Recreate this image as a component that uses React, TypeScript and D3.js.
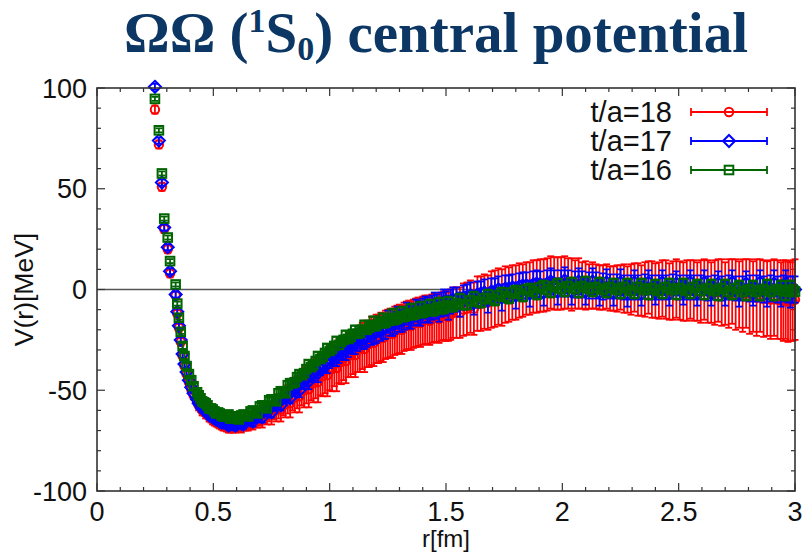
import React from "react";
import * as d3 from "d3";

// ---------- data ----------
// first group of lattice points
const R = [
  0.249, 0.266, 0.279, 0.289, 0.304, 0.314, 0.338, 0.345, 0.352, 0.360,
  0.368, 0.376, 0.385, 0.395, 0.405, 0.415, 0.430, 0.445, 0.460, 0.475,
  0.490, 0.505, 0.520, 0.535, 0.550, 0.565, 0.580, 0.595, 0.610, 0.630,
  0.650, 0.670, 0.690, 0.710, 0.730, 0.750, 0.770, 0.790, 0.810, 0.830,
  0.850, 0.870, 0.890, 0.910, 0.930, 0.950, 0.970, 0.990, 1.010, 1.030,
  1.050, 1.070, 1.090, 1.110, 1.130, 1.150, 1.170, 1.190, 1.210, 1.230,
  1.250, 1.270, 1.290, 1.310, 1.330, 1.350, 1.370, 1.390, 1.410, 1.430,
  1.450, 1.470, 1.490, 1.510, 1.530, 1.560, 1.590, 1.620, 1.650, 1.680,
  1.710, 1.740, 1.770, 1.800, 1.830, 1.860, 1.890, 1.920, 1.950, 1.980,
  2.010, 2.040, 2.070, 2.100, 2.130, 2.160, 2.190, 2.220, 2.250, 2.280,
  2.310, 2.340, 2.370, 2.400, 2.430, 2.460, 2.490, 2.520, 2.550, 2.580,
  2.610, 2.640, 2.670, 2.700, 2.730, 2.760, 2.790, 2.820, 2.850, 2.880,
  2.910, 2.940, 2.960, 2.980, 3.000,
];
// second group of lattice points (other directions)
const R2 = [
  0.437, 0.452, 0.467, 0.482, 0.497, 0.512, 0.527, 0.542, 0.557, 0.572,
  0.587, 0.602, 0.620, 0.640, 0.660, 0.680, 0.700, 0.720, 0.740, 0.760,
  0.780, 0.800, 0.820, 0.840, 0.860, 0.880, 0.900, 0.920, 0.940, 0.960,
  0.980, 1.000, 1.020, 1.040, 1.060, 1.080, 1.100, 1.120, 1.140, 1.160,
  1.180, 1.200, 1.220, 1.240, 1.260, 1.280, 1.300, 1.320, 1.340, 1.360,
  1.380, 1.400, 1.420, 1.440, 1.460, 1.480, 1.500, 1.520, 1.545, 1.575,
  1.605, 1.635, 1.665, 1.695, 1.725, 1.755, 1.785, 1.815, 1.845, 1.875,
  1.905, 1.935, 1.965, 1.995, 2.025, 2.055, 2.085, 2.115, 2.145, 2.175,
  2.205, 2.235, 2.265, 2.295, 2.325, 2.355, 2.385, 2.415, 2.445, 2.475,
  2.505, 2.535, 2.565, 2.595, 2.625, 2.655, 2.685, 2.715, 2.745, 2.775,
  2.805, 2.835, 2.865, 2.895, 2.925, 2.950, 2.970, 2.990,
];

// t/a = 18 (red)
const V18 = [
  89.3, 72, 51, 30, 20, 8, -3, -12, -19, -26,
  -33, -38, -42, -46, -49.5, -52.5, -55.5, -58.5, -60.5, -62,
  -63.5, -65, -66, -67, -67.5, -68.5, -68, -68.5, -68, -67.5,
  -67, -66.5, -65, -64.5, -62.5, -62, -60, -59.5, -57, -56.5,
  -53.5, -53, -50, -49.5, -46.5, -46, -43, -42.5, -39.5, -39,
  -36, -35.5, -32.5, -32.5, -29.5, -29.5, -27, -26.5, -24.5, -24,
  -22, -22, -20, -20, -18, -18, -16.5, -16.5, -15, -15.5,
  -14, -14.5, -13, -13.5, -11.5, -11.5, -9.5, -9.5, -7, -6.5,
  -4.5, -4, -2.5, -1.5, -0.5, 0.5, 1.5, 2, 3.5, 3,
  3.5, 2.5, 3, 2, 2, 1, 1.5, 0.5, 1, 0,
  1, -0.5, 1, -0.5, 0.5, -1, 0.5, -1, 0, -1,
  0, -1.5, -0.5, -2, -1, -2.5, -2, -3.5, -3, -4.5,
  -4, -5.5, -5, -6, -5,
];
const E18 = [
  2, 2, 2, 2, 2, 2, 2, 2, 2, 2,
  2, 2, 2, 2, 2, 2, 2, 2, 2, 2,
  2.5, 2.5, 2.5, 2.5, 2.5, 2.5, 2.5, 2.5, 2.5, 2.5,
  3, 3, 3.5, 4, 4.5, 5, 5.5, 6, 6.5, 7,
  7.5, 8, 8.5, 9, 9.5, 10, 10, 10.5, 11, 11.5,
  11, 11, 11, 11, 11.5, 11.5, 11.5, 11.5, 12, 12,
  12, 12, 12, 12, 12, 12, 12, 12, 12, 12,
  12, 12, 12, 12, 12.5, 12.5, 13, 13, 13.5, 13.5,
  14, 14, 13.5, 13.5, 13, 13, 13, 13, 13, 13,
  13, 13, 12.5, 12, 11.5, 11, 11, 11, 11, 11.5,
  12, 12.5, 13, 13.5, 14, 14, 14.5, 14.5, 14.5, 14.5,
  15, 15, 15.5, 15.5, 16, 16.5, 17, 17.5, 18, 18.5,
  19, 19, 19.5, 19.5, 20,
];
const V18b = [
  -57.5, -60, -61.5, -63, -64.5, -65.5, -66.5, -67.5, -68, -68.5,
  -68.5, -68, -68, -67, -66, -65, -63.5, -62, -60.5, -59,
  -58, -56, -54.5, -52.5, -51, -49, -47.5, -45.5, -44, -42,
  -40.5, -39, -37, -35.5, -34, -32.5, -31, -29.5, -28, -27,
  -25.5, -24.5, -23.5, -22.5, -21.5, -20.5, -19.5, -18.5, -17.5, -17,
  -16, -15.5, -15, -14.5, -14, -13.5, -13, -12.5, -11.5, -10,
  -8.5, -7, -6, -5, -3.5, -2.5, -1.5, -0.5, 0.5, 1.5,
  2, 2.5, 3, 3, 3, 2.5, 2, 1.5, 1.5, 1,
  0.5, 0.5, 0.5, 0, 0, 0, 0, -0.5, 0, -0.5,
  -0.5, -0.5, -0.5, -1, -1, -1.5, -1.5, -2, -2.5, -3,
  -3.5, -4, -4.5, -5, -5, -5.5, -6, -5.5,
];
const E18b = [
  2.5, 2.5, 2.5, 2.5, 2.5, 2.5, 2.5, 2.5, 2.5, 2.5,
  2.5, 2.5, 3, 3, 3, 3.5, 4, 4.5, 5, 5.5,
  6, 6.5, 7, 7.5, 8, 8.5, 9, 9.5, 10, 10.5,
  11, 11, 11, 11, 11, 11, 11, 11.5, 11.5, 11.5,
  12, 12, 12, 12, 12, 12, 12, 12, 12, 12,
  12, 12, 12, 12, 12, 12, 12.5, 12.5, 12.5, 13,
  13, 13.5, 13.5, 14, 14, 14, 13.5, 13.5, 13, 13,
  13, 13, 13, 13, 12.5, 12, 11.5, 11, 11, 11,
  11, 11.5, 12, 12.5, 13, 13.5, 14, 14, 14.5, 14.5,
  14.5, 15, 15, 15.5, 15.5, 16, 16.5, 17, 17.5, 18,
  18.5, 19, 19, 19.5, 19.5, 20, 20, 20,
];

// t/a = 17 (blue)
const V17 = [
  100.6, 73.9, 53.1, 30.8, 21, 9.1, -2.5, -11, -18, -25,
  -32, -37, -41, -45, -48.5, -51.5, -54.5, -57.5, -59.5, -61,
  -62.5, -64, -64.5, -66, -66, -67.5, -66.5, -67.5, -66, -67,
  -64.5, -65.5, -62.5, -63.5, -60, -61, -57, -57.5, -53.5, -54,
  -49.5, -50, -45, -45.5, -41, -41.5, -37, -37, -33, -33.5,
  -29.5, -30, -26.5, -27, -23.5, -24.5, -21, -22, -18.5, -19.5,
  -16, -17.5, -14, -15.5, -12, -14, -10.5, -12.5, -9, -11,
  -7.5, -10, -6, -9, -5, -7.5, -3.5, -6.5, -2, -5.5,
  -1, -4, 0.5, -3, 2, -2, 3, -1.5, 4, -1,
  4.5, -1, 4, -1, 4, -1.5, 3.5, -1.5, 3.5, -2,
  3.5, -2, 3.5, -1.5, 3.5, -2, 3, -1.5, 3.5, -2,
  3.5, -2, 3, -2, 3.5, -2.5, 3, -2, 3.5, -2.5,
  3, -2, 3, -2.5, 0,
];
const E17 = [
  1.5, 1.5, 1.5, 1.5, 1.5, 1.5, 1.5, 1.5, 1.5, 1.5,
  2, 2, 2, 2, 2, 2, 2, 2, 2, 2,
  2, 2, 2, 2, 2, 2, 2, 2, 2, 2,
  2.5, 2.5, 2.5, 2.5, 2.5, 2.5, 2.5, 2.5, 2.5, 2.5,
  3.5, 3.5, 4, 4, 4, 4.5, 4.5, 4.5, 4.5, 4.5,
  5, 5, 5, 5, 5, 5, 5, 5, 5, 5,
  5.5, 5.5, 5.5, 5.5, 5.5, 5.5, 5.5, 5.5, 5.5, 5.5,
  6, 6, 6, 6, 6, 6, 6, 6, 6, 6,
  6.5, 6.5, 6.5, 6.5, 6.5, 6.5, 6.5, 6.5, 6.5, 6.5,
  6.5, 6.5, 6.5, 6.5, 6.5, 6.5, 6.5, 6.5, 6.5, 6.5,
  6, 6, 6, 6, 6, 6, 6, 6, 6, 6,
  6, 6, 6, 6, 6, 6, 6, 6, 6, 6,
  6.5, 6.5, 6.5, 6.5, 6.5,
];
const V17b = [
  -56.5, -59, -60.5, -62.5, -63.5, -64.5, -65.5, -66, -66.5, -67,
  -67, -67, -66.5, -65.5, -64.5, -63.5, -62, -60.5, -59, -57.5,
  -56, -54, -52, -50, -48, -46, -44, -42, -40, -38,
  -36, -34.5, -33, -31.5, -30, -28.5, -27, -25.5, -24.5, -23.5,
  -22, -21, -20, -19, -17.5, -16.5, -15.5, -14.5, -13.5, -12.5,
  -11.5, -10.5, -10, -9, -8.5, -7.5, -7, -6, -5, -4,
  -3, -2.5, -1.5, -1, 0, 0.5, 1, 1.5, 2, 2.5,
  2.5, 3, 3, 3, 3, 2.5, 2.5, 2, 2, 1.5,
  1.5, 1.5, 1, 1, 1, 1.5, 1, 1, 1, 1.5,
  1, 1, 1, 1, 0.5, 1, 0.5, 1, 0.5, 0.5,
  0.5, 0.5, 0, 0.5, 0, 0.5, 0, 0,
];
const E17b = [
  2, 2, 2, 2, 2, 2, 2, 2, 2, 2,
  2, 2, 2, 2, 2, 2, 2, 2, 2, 2,
  2.5, 2.5, 3, 3, 3.5, 3.5, 4, 4, 4, 4.5,
  4.5, 4.5, 5, 5, 5, 5, 5, 5, 5, 5,
  5.5, 5.5, 5.5, 5.5, 5.5, 5.5, 5.5, 5.5, 5.5, 5.5,
  6, 6, 6, 6, 6, 6, 6, 6, 6, 6,
  6.5, 6.5, 6.5, 6.5, 6.5, 6.5, 6.5, 6.5, 6.5, 6.5,
  6.5, 6.5, 6.5, 6.5, 6.5, 6.5, 6.5, 6.5, 6.5, 6.5,
  6, 6, 6, 6, 6, 6, 6, 6, 6, 6,
  6, 6, 6, 6, 6, 6, 6, 6, 6, 6,
  6.5, 6.5, 6.5, 6.5, 6.5, 6.5, 6.5, 6.5,
];

// t/a = 16 (green)
const V16 = [
  94.6, 79, 57.6, 35.2, 25.8, 14.1, 2.5, -7, -14, -21,
  -28, -33, -38, -42, -45, -48, -51, -54, -56, -57.5,
  -59, -60.5, -61, -62.5, -63, -62, -64, -63, -64.5, -62,
  -63, -60, -61.5, -57.5, -59, -54.5, -55.5, -50.5, -51.5, -46.5,
  -46, -42, -41.5, -37, -37.5, -33, -33.5, -29, -29.5, -25.5,
  -26, -22.5, -23.5, -20, -21.5, -17.5, -19, -15.5, -17, -14,
  -15.5, -12, -14.5, -11, -13, -9.5, -12, -8.5, -11, -7.5,
  -10.5, -6.5, -9.5, -6, -8.5, -4.5, -7.5, -3.5, -6.5, -2.5,
  -5.5, -1.5, -4.5, -0.5, -3.5, 0.5, -2.5, 2, -1.5, 3,
  -1, 3.5, -1.5, 4, -1, 3.5, -1.5, 3, -2, 3,
  -2, 3, -2.5, 2.5, -2, 3, -2.5, 3, -2, 2.5,
  -2.5, 2.5, -3, 2.5, -2.5, 2, -3, 2, -3, 2.5,
  -3, 2, -3, 2, -1,
];
const E16 = [
  1, 1, 1, 1, 1, 1, 1, 1, 1, 1,
  1.5, 1.5, 1.5, 1.5, 1.5, 1.5, 1.5, 1.5, 1.5, 1.5,
  1.5, 1.5, 1.5, 1.5, 1.5, 1.5, 1.5, 1.5, 1.5, 1.5,
  1.5, 1.5, 1.5, 1.5, 1.5, 1.5, 1.5, 1.5, 1.5, 1.5,
  2, 2, 2, 2, 2, 2, 2, 2, 2, 2,
  2, 2, 2, 2, 2, 2, 2, 2, 2, 2,
  2.5, 2.5, 2.5, 2.5, 2.5, 2.5, 2.5, 2.5, 2.5, 2.5,
  2.5, 2.5, 2.5, 2.5, 2.5, 2.5, 2.5, 2.5, 2.5, 2.5,
  2.5, 2.5, 2.5, 2.5, 2.5, 2.5, 2.5, 2.5, 2.5, 2.5,
  2.5, 2.5, 2.5, 2.5, 2.5, 2.5, 2.5, 2.5, 2.5, 2.5,
  2.5, 2.5, 2.5, 2.5, 2.5, 2.5, 2.5, 2.5, 2.5, 2.5,
  2.5, 2.5, 2.5, 2.5, 2.5, 2.5, 2.5, 2.5, 2.5, 2.5,
  2.5, 2.5, 2.5, 2.5, 2.5,
];
const V16b = [
  -52.5, -55.5, -56.5, -59, -59.5, -61.5, -61.5, -63, -62.5, -64,
  -63, -64, -62.5, -62.5, -60.5, -60.5, -58, -57.5, -55, -54.5,
  -51.5, -50.5, -47.5, -46.5, -43.5, -42.5, -39.5, -38.5, -35.5, -34.5,
  -31.5, -30.5, -28, -27.5, -25, -24.5, -22, -22, -20, -20,
  -18, -18, -16, -16.5, -14.5, -15, -13.5, -13.5, -12, -12.5,
  -11, -11.5, -10, -10.5, -9, -9.5, -8, -8.5, -7, -7.5,
  -5.5, -6, -4.5, -4.5, -3, -3.5, -1.5, -2, 0, -1,
  1, 0, 1.5, 0.5, 1.5, 0.5, 1.5, 0.5, 1, 0,
  1, 0, 1, -0.5, 1, 0, 0.5, -0.5, 1, 0,
  0.5, -0.5, 1, -0.5, 0.5, -0.5, 0.5, -1, 0.5, -1,
  0, -1, 0, -1, 0, -0.5, -1, 0,
];
const E16b = [
  1.5, 1.5, 1.5, 1.5, 1.5, 1.5, 1.5, 1.5, 1.5, 1.5,
  1.5, 1.5, 1.5, 1.5, 1.5, 1.5, 1.5, 1.5, 1.5, 1.5,
  2, 2, 2, 2, 2, 2, 2, 2, 2, 2,
  2, 2, 2, 2, 2, 2, 2, 2, 2, 2,
  2.5, 2.5, 2.5, 2.5, 2.5, 2.5, 2.5, 2.5, 2.5, 2.5,
  2.5, 2.5, 2.5, 2.5, 2.5, 2.5, 2.5, 2.5, 2.5, 2.5,
  2.5, 2.5, 2.5, 2.5, 2.5, 2.5, 2.5, 2.5, 2.5, 2.5,
  2.5, 2.5, 2.5, 2.5, 2.5, 2.5, 2.5, 2.5, 2.5, 2.5,
  2.5, 2.5, 2.5, 2.5, 2.5, 2.5, 2.5, 2.5, 2.5, 2.5,
  2.5, 2.5, 2.5, 2.5, 2.5, 2.5, 2.5, 2.5, 2.5, 2.5,
  2.5, 2.5, 2.5, 2.5, 2.5, 2.5, 2.5, 2.5,
];

const SERIES_LABELS = ["t/a=18", "t/a=17", "t/a=16"];
const X_TICKS = [0, 0.5, 1, 1.5, 2, 2.5, 3];
const Y_TICKS = [-100, -50, 0, 50, 100];
const X_LABEL = "r[fm]";
const Y_LABEL = "V(r)[MeV]";

// ---------- layout ----------
const W = 807;
const H = 552;
const L = 97, Rt = 795, T = 88, B = 491;
const FONT = "'Liberation Sans', Arial, Helvetica, sans-serif";
const COLORS = ["#ff0000", "#0000ff", "#006400"];
const SHAPES = ["circle", "diamond", "square"];

function Marker({ shape, x, y, color }) {
  const sw = 2;
  if (shape === "circle")
    return <circle cx={x} cy={y} r={4.2} fill="none" stroke={color} strokeWidth={sw} />;
  if (shape === "diamond") {
    const s = 6;
    return (
      <path
        d={`M${x},${y - s}L${x + s},${y}L${x},${y + s}L${x - s},${y}Z`}
        fill="none"
        stroke={color}
        strokeWidth={sw}
      />
    );
  }
  const s = 4.3;
  return <rect x={x - s} y={y - s} width={2 * s} height={2 * s} fill="none" stroke={color} strokeWidth={sw} />;
}

export default function App() {
  const x = d3.scaleLinear().domain([0, 3]).range([L, Rt]);
  const y = d3.scaleLinear().domain([-100, 100]).range([B, T]);

  const series = [
    { label: SERIES_LABELS[0], sets: [{ r: R, v: V18, e: E18 }, { r: R2, v: V18b, e: E18b }] },
    { label: SERIES_LABELS[1], sets: [{ r: R, v: V17, e: E17 }, { r: R2, v: V17b, e: E17b }] },
    { label: SERIES_LABELS[2], sets: [{ r: R, v: V16, e: E16 }, { r: R2, v: V16b, e: E16b }] },
  ];

  const xMinor = d3.range(0, 30.001, 1).map((d) => d / 10);
  const yMinor = d3.range(-10, 10.001, 1).map((d) => d * 10);
  const axisColor = "#333";

  return (
    <svg
      width={W}
      height={H}
      style={{ position: "absolute", left: 0, top: 0, background: "#fff" }}
      fontFamily={FONT}
    >
      {/* title */}
      <text
        x={436}
        y={52}
        textAnchor="middle"
        fontFamily="'Liberation Serif', 'Times New Roman', serif"
        fontWeight="bold"
        fontSize={57}
        fill="#0c3764"
      >
        ΩΩ (<tspan fontSize={34} dy={-20}>1</tspan>
        <tspan dy={20}>S</tspan>
        <tspan fontSize={34} dy={8}>0</tspan>
        <tspan dy={-8}>) central potential</tspan>
      </text>

      {/* zero line */}
      <line x1={L} x2={Rt} y1={y(0)} y2={y(0)} stroke="#555" strokeWidth={1.5} />

      {/* ticks */}
      {xMinor.map((t, i) => {
        const major = Math.abs(t * 2 - Math.round(t * 2)) < 1e-6;
        const len = major ? 8 : 4;
        return (
          <g key={"xt" + i} stroke={axisColor} strokeWidth={1.2}>
            <line x1={x(t)} x2={x(t)} y1={B} y2={B - len} />
            <line x1={x(t)} x2={x(t)} y1={T} y2={T + len} />
          </g>
        );
      })}
      {yMinor.map((t, i) => {
        const major = t % 50 === 0;
        const len = major ? 8 : 4;
        return (
          <g key={"yt" + i} stroke={axisColor} strokeWidth={1.2}>
            <line x1={L} x2={L + len} y1={y(t)} y2={y(t)} />
            <line x1={Rt} x2={Rt - len} y1={y(t)} y2={y(t)} />
          </g>
        );
      })}

      {/* data */}
      {series.map((s, si) => (
        <g key={"s" + si}>
          {s.sets.map((set, k) => (
            <g key={"eb" + k} stroke={COLORS[si]} strokeWidth={1.8}>
              {set.r.map((r, i) => {
                const cx = x(r);
                const y0 = y(set.v[i] - set.e[i]);
                const y1 = y(set.v[i] + set.e[i]);
                return (
                  <g key={i}>
                    <line x1={cx} x2={cx} y1={y0} y2={y1} />
                    <line x1={cx - 3.5} x2={cx + 3.5} y1={y0} y2={y0} />
                    <line x1={cx - 3.5} x2={cx + 3.5} y1={y1} y2={y1} />
                  </g>
                );
              })}
            </g>
          ))}
          {s.sets.map((set, k) => (
            <g key={"mk" + k}>
              {set.r.map((r, i) => (
                <Marker key={i} shape={SHAPES[si]} x={x(r)} y={y(set.v[i])} color={COLORS[si]} />
              ))}
            </g>
          ))}
        </g>
      ))}

      {/* frame */}
      <rect x={L} y={T} width={Rt - L} height={B - T} fill="none" stroke={axisColor} strokeWidth={1.6} />

      {/* tick labels */}
      {X_TICKS.map((t) => (
        <text key={"xl" + t} x={x(t)} y={521} textAnchor="middle" fontSize={27} fill="#111">
          {String(t)}
        </text>
      ))}
      {Y_TICKS.map((t) => (
        <text key={"yl" + t} x={L - 10} y={y(t) + 9.5} textAnchor="end" fontSize={27} fill="#111">
          {String(t)}
        </text>
      ))}

      {/* axis labels */}
      <text x={(L + Rt) / 2} y={547} textAnchor="middle" fontSize={24} fill="#111">
        {X_LABEL}
      </text>
      <text
        transform={`translate(33,${y(0)}) rotate(-90)`}
        textAnchor="middle"
        fontSize={26.5}
        fill="#111"
      >
        {Y_LABEL}
      </text>

      {/* legend */}
      {series.map((s, si) => {
        const ly = 112 + si * 29;
        const c = COLORS[si];
        return (
          <g key={"lg" + si}>
            <text x={672} y={ly + 10} textAnchor="end" fontSize={29} fill="#111">
              {s.label}
            </text>
            <g stroke={c} strokeWidth={1.8}>
              <line x1={691} x2={767} y1={ly} y2={ly} />
              <line x1={691} x2={691} y1={ly - 4} y2={ly + 4} />
              <line x1={767} x2={767} y1={ly - 4} y2={ly + 4} />
            </g>
            <Marker shape={SHAPES[si]} x={729} y={ly} color={c} />
          </g>
        );
      })}
    </svg>
  );
}
